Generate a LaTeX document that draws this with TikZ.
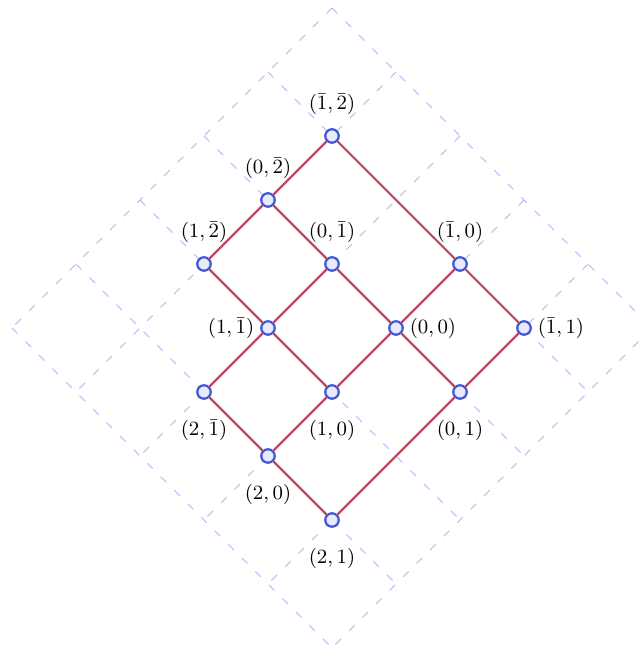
\documentclass[tikz,border=0pt]{standalone}
\usepackage{xcolor}
\usepackage{tikz}
\definecolor{coverred}{HTML}{C24A5E}
\definecolor{dotblue}{HTML}{4357D2}
\definecolor{dotfill}{HTML}{E8EBF9}
\definecolor{gridblue}{HTML}{AEB6F2}
\tikzset{
  gridline/.style={gridblue, line width=0.45pt, dash pattern=on 3.5pt off 5pt},
  elt/.style={circle, draw=dotblue, fill=dotfill, line width=1pt, minimum size=6pt, inner sep=0pt},
  cover/.style={coverred, line width=0.95pt},
  lab/.style={font=\fontsize{9.3}{11}\selectfont, inner sep=0pt},
}

\begin{document}
\begin{tikzpicture}[x={(-1cm,-1cm)}, y={(1cm,-1cm)}]
  \useasboundingbox (-6.1875cm,5.125cm) rectangle (3.84375cm,-5.03125cm);

  % dashed background lattice
  \draw[gridline] (-2,-3) -- (-2,2);
  \draw[gridline] (-1,-3) -- (-1,2);
  \draw[gridline] (0,-3) -- (0,2);
  \draw[gridline] (1,-3) -- (1,2);
  \draw[gridline] (2,-3) -- (2,2);
  \draw[gridline] (3,-3) -- (3,2);
  \draw[gridline] (-2,-3) -- (3,-3);
  \draw[gridline] (-2,-2) -- (3,-2);
  \draw[gridline] (-2,-1) -- (3,-1);
  \draw[gridline] (-2,0) -- (3,0);
  \draw[gridline] (-2,1) -- (3,1);
  \draw[gridline] (-2,2) -- (3,2);

  % elements
  \node[elt] (vm1m2) at (-1,-2) {};
  \node[elt] (v0m2) at (0,-2) {};
  \node[elt] (v1m2) at (1,-2) {};
  \node[elt] (v0m1) at (0,-1) {};
  \node[elt] (vm10) at (-1,0) {};
  \node[elt] (v1m1) at (1,-1) {};
  \node[elt] (v00) at (0,0) {};
  \node[elt] (vm11) at (-1,1) {};
  \node[elt] (v2m1) at (2,-1) {};
  \node[elt] (v10) at (1,0) {};
  \node[elt] (v01) at (0,1) {};
  \node[elt] (v20) at (2,0) {};
  \node[elt] (v21) at (2,1) {};

  % covering relations
  \draw[cover] (vm1m2) -- (v0m2);
  \draw[cover] (v0m2) -- (v1m2);
  \draw[cover] (v0m1) -- (v1m1);
  \draw[cover] (v1m1) -- (v2m1);
  \draw[cover] (vm10) -- (v00);
  \draw[cover] (v00) -- (v10);
  \draw[cover] (v10) -- (v20);
  \draw[cover] (vm11) -- (v01);
  \draw[cover] (v01) -- (v21);
  \draw[cover] (vm1m2) -- (vm10);
  \draw[cover] (vm10) -- (vm11);
  \draw[cover] (v0m2) -- (v0m1);
  \draw[cover] (v0m1) -- (v00);
  \draw[cover] (v00) -- (v01);
  \draw[cover] (v1m2) -- (v1m1);
  \draw[cover] (v1m1) -- (v10);
  \draw[cover] (v2m1) -- (v20);
  \draw[cover] (v20) -- (v21);

  % labels
  \node[lab] (lm1m2) at ([yshift=14.2pt]vm1m2) {$(\bar{1},\bar{2})$};
  \node[lab] (l0m2) at ([yshift=14.2pt]v0m2) {$(0,\bar{2})$};
  \node[lab] (l1m2) at ([yshift=14.2pt]v1m2) {$(1,\bar{2})$};
  \node[lab] (l0m1) at ([yshift=14.2pt]v0m1) {$(0,\bar{1})$};
  \node[lab] (lm10) at ([yshift=14.2pt]vm10) {$(\bar{1},0)$};
  \node[lab] (l1m1) at ([xshift=-16.4pt]v1m1) {$(1,\bar{1})$};
  \node[lab] (l00) at ([xshift=16.4pt]v00) {$(0,0)$};
  \node[lab] (lm11) at ([xshift=16.4pt]vm11) {$(\bar{1},1)$};
  \node[lab] (l2m1) at ([yshift=-17pt]v2m1) {$(2,\bar{1})$};
  \node[lab] (l10) at ([yshift=-17pt]v10) {$(1,0)$};
  \node[lab] (l01) at ([yshift=-17pt]v01) {$(0,1)$};
  \node[lab] (l20) at ([yshift=-17pt]v20) {$(2,0)$};
  \node[lab] (l21) at ([yshift=-17pt]v21) {$(2,1)$};
\end{tikzpicture}
\end{document}
